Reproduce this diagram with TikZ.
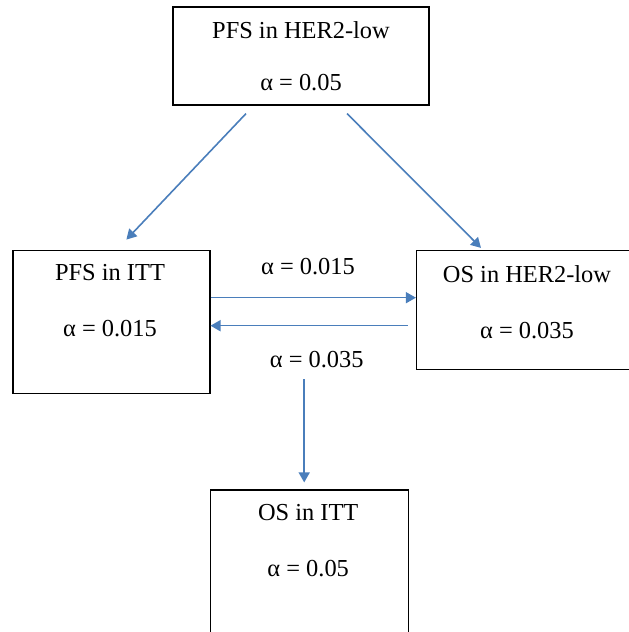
\documentclass[tikz,border=0pt]{standalone}
\usepackage{fontspec}
\setmainfont{Liberation Serif}
\usepackage{tikz}
\usetikzlibrary{arrows.meta,positioning,calc}
\definecolor{arrowblue}{HTML}{4A7EBB}
\tikzset{
    hypbox/.style={draw, rectangle, line width=1.2pt, inner sep=0pt},
    boxtext/.style={align=center, inner sep=0pt, font=\fontsize{24.4}{56}\selectfont},
    alphalbl/.style={inner sep=0pt, anchor=base, font=\fontsize{24.4}{28}\selectfont},
    flow/.style={-{Triangle[length=10pt, width=11pt]}, line width=1.6pt, arrowblue}
}

\begin{document}
\begin{tikzpicture}[x=1pt, y=1pt]
    \clip (0,0) rectangle (629,632);
    % hypotheses
    \node[hypbox, minimum width=256pt, minimum height=98pt] (pfsher) at (301,576) {};
    \node[hypbox, minimum width=197pt, minimum height=143pt] (pfsitt) at (111.4,310.3) {};
    \node[hypbox, minimum width=221pt, minimum height=119pt] (osher) at (527,322) {};
    \node[hypbox, minimum width=198pt, minimum height=143pt] (ositt) at (309.2,70.5) {};

    \node[boxtext, below=15pt of pfsher.north] (pfshertxt) {PFS in HER2-low\\[-4pt]α = 0.05};
    \node[boxtext, below=15pt of pfsitt.north, xshift=-1.4pt] (pfsitttxt) {PFS in ITT\\α = 0.015};
    \node[boxtext, below=15pt of osher.north] (oshertxt) {OS in HER2-low\\α = 0.035};
    \node[boxtext, below=15pt of ositt.north, xshift=-1pt] (osittxt) {OS in ITT\\α = 0.05};

    % alpha passing
    \draw[flow] ($(pfsher.south)+(-55,-8)$) -- ($(pfsitt.north)+(15,10)$);
    \draw[flow] ($(pfsher.south)+(46,-8)$) -- ($(osher.north)+(-46,2)$);
    \draw[flow] ($(pfsitt.east)+(0,24)$) -- ($(pfsitt.east -| osher.west)+(0,24)$);
    \draw[flow] ($(pfsitt.east -| osher.west)+(-8,-4)$) -- ($(pfsitt.east)+(0,-4)$);
    \coordinate (split) at ($(ositt.north)+(-5,110)$);
    \draw[flow] (split) -- ($(ositt.north)+(-5,7)$);

    \node[alphalbl] (a015) at (308,357) {α = 0.015};
    \node[alphalbl] (a035) at (316.7,264) {α = 0.035};
\end{tikzpicture}
\end{document}
